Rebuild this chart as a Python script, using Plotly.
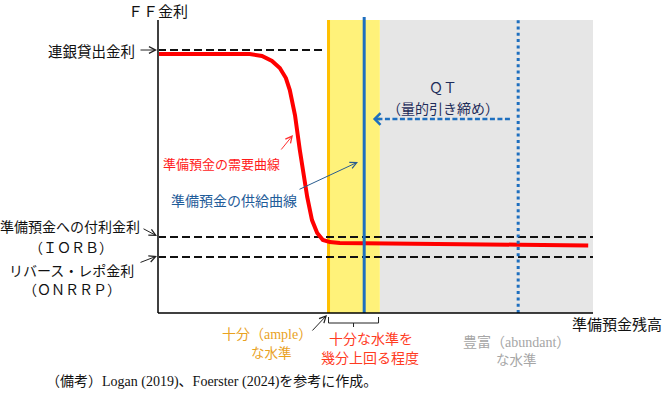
import plotly.graph_objects as go

# ---------------- data (schematic units: reserves 0-100, rate 0-100) ----------------
demand_x = [0, 21.1, 23.9, 26.2, 28.0, 29.4, 30.3, 31.5, 32.6, 33.3, 34.3, 35.4, 36.6, 37.9, 39.5, 41.8, 51.0, 67.1, 83.2, 98.9]
demand_y = [88.4, 88.4, 87.7, 86.0, 83.6, 80.2, 76.1, 67.5, 55.6, 48.1, 39.6, 31.7, 27.3, 24.9, 24.2, 23.9, 23.7, 23.5, 23.3, 23.0]

discount_rate = 89.8      # 連銀貸出金利
iorb_rate = 25.9          # 準備預金への付利金利
onrrp_rate = 19.1         # リバース・レポ金利

supply_x = 47.4           # 準備預金の供給曲線
abundant_x = 82.8         # 豊富な水準
ample_band = [38.9, 51.0] # 十分な水準〜幾分上回る程度
abundant_band = [51.0, 100.0]
axis_max = [100.0, 100.0]
line_top = 101.0
discount_end = 38.6
qt_arrow = [80.9, 49.4]
qt_level = 66.2

# ---------------- pixel <-> data mapping (layout only) ----------------
W, H = 666, 395
X0, XS = 158.0, 4.35   # pixel of x=0, pixels per unit
Y0, YS = 313.0, 2.93   # pixel of y=0, pixels per unit


def X(px):
    return (px - X0) / XS


def Y(py):
    return (Y0 - py) / YS


JP = "Noto Sans CJK JP"
SERIF = "Liberation Serif, Noto Sans CJK JP"
RED = "#FF0000"
BLUE = "#1E6FBF"

fig = go.Figure()

# bands
shapes = [
    dict(type="rect", xref="x", yref="y", x0=abundant_band[0], x1=abundant_band[1], y0=0, y1=axis_max[1],
         fillcolor="#E6E6E6", line=dict(width=0), layer="below"),
    dict(type="rect", xref="x", yref="y", x0=ample_band[0], x1=ample_band[1], y0=0, y1=axis_max[1],
         fillcolor="#FFF27A", line=dict(width=0), layer="below"),
]

# orange edge of the ample band
fig.add_trace(go.Scatter(x=[ample_band[0] + 0.3, ample_band[0] + 0.3], y=[0, axis_max[1]], mode="lines",
                         line=dict(color="#FFC000", width=3), hoverinfo="skip", showlegend=False))

# dashed rate lines
for xs, yv in [([0, discount_end], discount_rate), ([0, axis_max[0]], iorb_rate), ([0, axis_max[0]], onrrp_rate)]:
    fig.add_trace(go.Scatter(x=xs, y=[yv, yv], mode="lines",
                             line=dict(color="#111111", width=2, dash="8px,4px"),
                             hoverinfo="skip", showlegend=False))

# demand curve
fig.add_trace(go.Scatter(x=demand_x, y=demand_y, mode="lines",
                         line=dict(color=RED, width=4), hoverinfo="skip", showlegend=False))

# supply line and abundant line
fig.add_trace(go.Scatter(x=[supply_x, supply_x], y=[0, line_top], mode="lines",
                         line=dict(color=BLUE, width=3), hoverinfo="skip", showlegend=False))
fig.add_trace(go.Scatter(x=[abundant_x, abundant_x], y=[0, line_top], mode="lines",
                         line=dict(color=BLUE, width=3, dash="3px,3.3px"), hoverinfo="skip", showlegend=False))

# QT dashed arrow body
fig.add_trace(go.Scatter(x=[qt_arrow[0], qt_arrow[1] + 0.6], y=[qt_level, qt_level], mode="lines",
                         line=dict(color=BLUE, width=2.5, dash="5px,2.5px"), hoverinfo="skip", showlegend=False))

# axes
fig.add_trace(go.Scatter(x=[0, 0], y=[0, axis_max[1]], mode="lines",
                         line=dict(color="#404040", width=2), hoverinfo="skip", showlegend=False))
fig.add_trace(go.Scatter(x=[0, axis_max[0]], y=[0, 0], mode="lines",
                         line=dict(color="#000000", width=1.5), hoverinfo="skip", showlegend=False))

# bracket under ample band
shapes.append(dict(type="path", xref="x", yref="y",
                   path=f"M {ample_band[0]+0.3},{Y(317)} L {ample_band[0]+0.3},{Y(323)} L {ample_band[1]-0.3},{Y(323)} L {ample_band[1]-0.3},{Y(317)} "
                        f"M {(ample_band[0]+ample_band[1])/2},{Y(323)} L {(ample_band[0]+ample_band[1])/2},{Y(327)}",
                   line=dict(color="#222222", width=1)))

ann = []


def text(s, px, py, size, color="#111111", family=JP, xanchor="center"):
    ann.append(dict(text=s, x=X(px), y=Y(py), xref="x", yref="y", showarrow=False,
                    xanchor=xanchor, yanchor="middle", font=dict(family=family, size=size, color=color)))


def arrow(tail, head, color="#222222", width=1, head_style=5, size=1.3):
    ann.append(dict(text="", x=X(head[0]), y=Y(head[1]), ax=X(tail[0]), ay=Y(tail[1]),
                    xref="x", yref="y", axref="x", ayref="y", showarrow=True,
                    arrowhead=head_style, arrowwidth=width, arrowsize=size, arrowcolor=color, standoff=0))


text("ＦＦ金利", 158, 10, 15)
text("連銀貸出金利", 137, 50, 14.5, xanchor="right")
arrow((139, 50), (157, 50))
text("準備預金への付利金利", 142, 226, 14, xanchor="right")
text("（ＩＯＲＢ）", 71, 247, 14)
arrow((142, 228), (157, 236))
text("リバース・レポ金利", 71, 270, 14)
text("（ＯＮＲＲＰ）", 72, 289, 14)
arrow((139, 263), (157, 256))

text("準備預金の需要曲線", 221, 163, 13, color="#FF1A1A")
arrow((280, 151), (293, 135), color="#FF3030")
text("準備預金の供給曲線", 234, 200, 14, color="#1F5C99")
arrow((298, 190), (358, 162), color="#2A5D8F")

text("ＱＴ", 443, 87, 14, color="#1F2D5A")
text("（量的引き締め）", 443, 108, 14, color="#1F2D5A")
ann.append(dict(text="", x=qt_arrow[1], y=qt_level, ax=qt_arrow[1] + 2.0, ay=qt_level,
                xref="x", yref="y", axref="x", ayref="y", showarrow=True,
                arrowhead=4, arrowwidth=2.5, arrowsize=0.9, arrowcolor=BLUE, standoff=0))

text("準備預金残高", 664, 323, 15, xanchor="right")

text("十分（ample）", 267, 334, 14, color="#E9A21F", family=SERIF)
text("な水準", 271, 352, 13.5, color="#E9A21F")
arrow((311, 332), (327, 315))
text("十分な水準を", 371, 338, 14, color="#FF3B1F")
text("幾分上回る程度", 370, 357, 14, color="#FF3B1F")
text("豊富（abundant）", 516, 342, 14, color="#A6A6A6", family=SERIF)
text("な水準", 516, 359, 13.5, color="#A6A6A6")

text("（備考）Logan (2019)、Foerster (2024)を参考に作成。", 44, 382, 14, family=SERIF, xanchor="left")

fig.update_layout(
    width=W, height=H, autosize=False,
    margin=dict(l=0, r=0, t=0, b=0),
    paper_bgcolor="white", plot_bgcolor="white",
    xaxis=dict(range=[X(0), X(W)], visible=False, fixedrange=True),
    yaxis=dict(range=[Y(H), Y(0)], visible=False, fixedrange=True),
    shapes=shapes, annotations=ann, showlegend=False,
)

fig.write_html("out.html", config={"displayModeBar": False},
               post_script="document.body.style.margin='0px';document.body.style.overflow='hidden';")
